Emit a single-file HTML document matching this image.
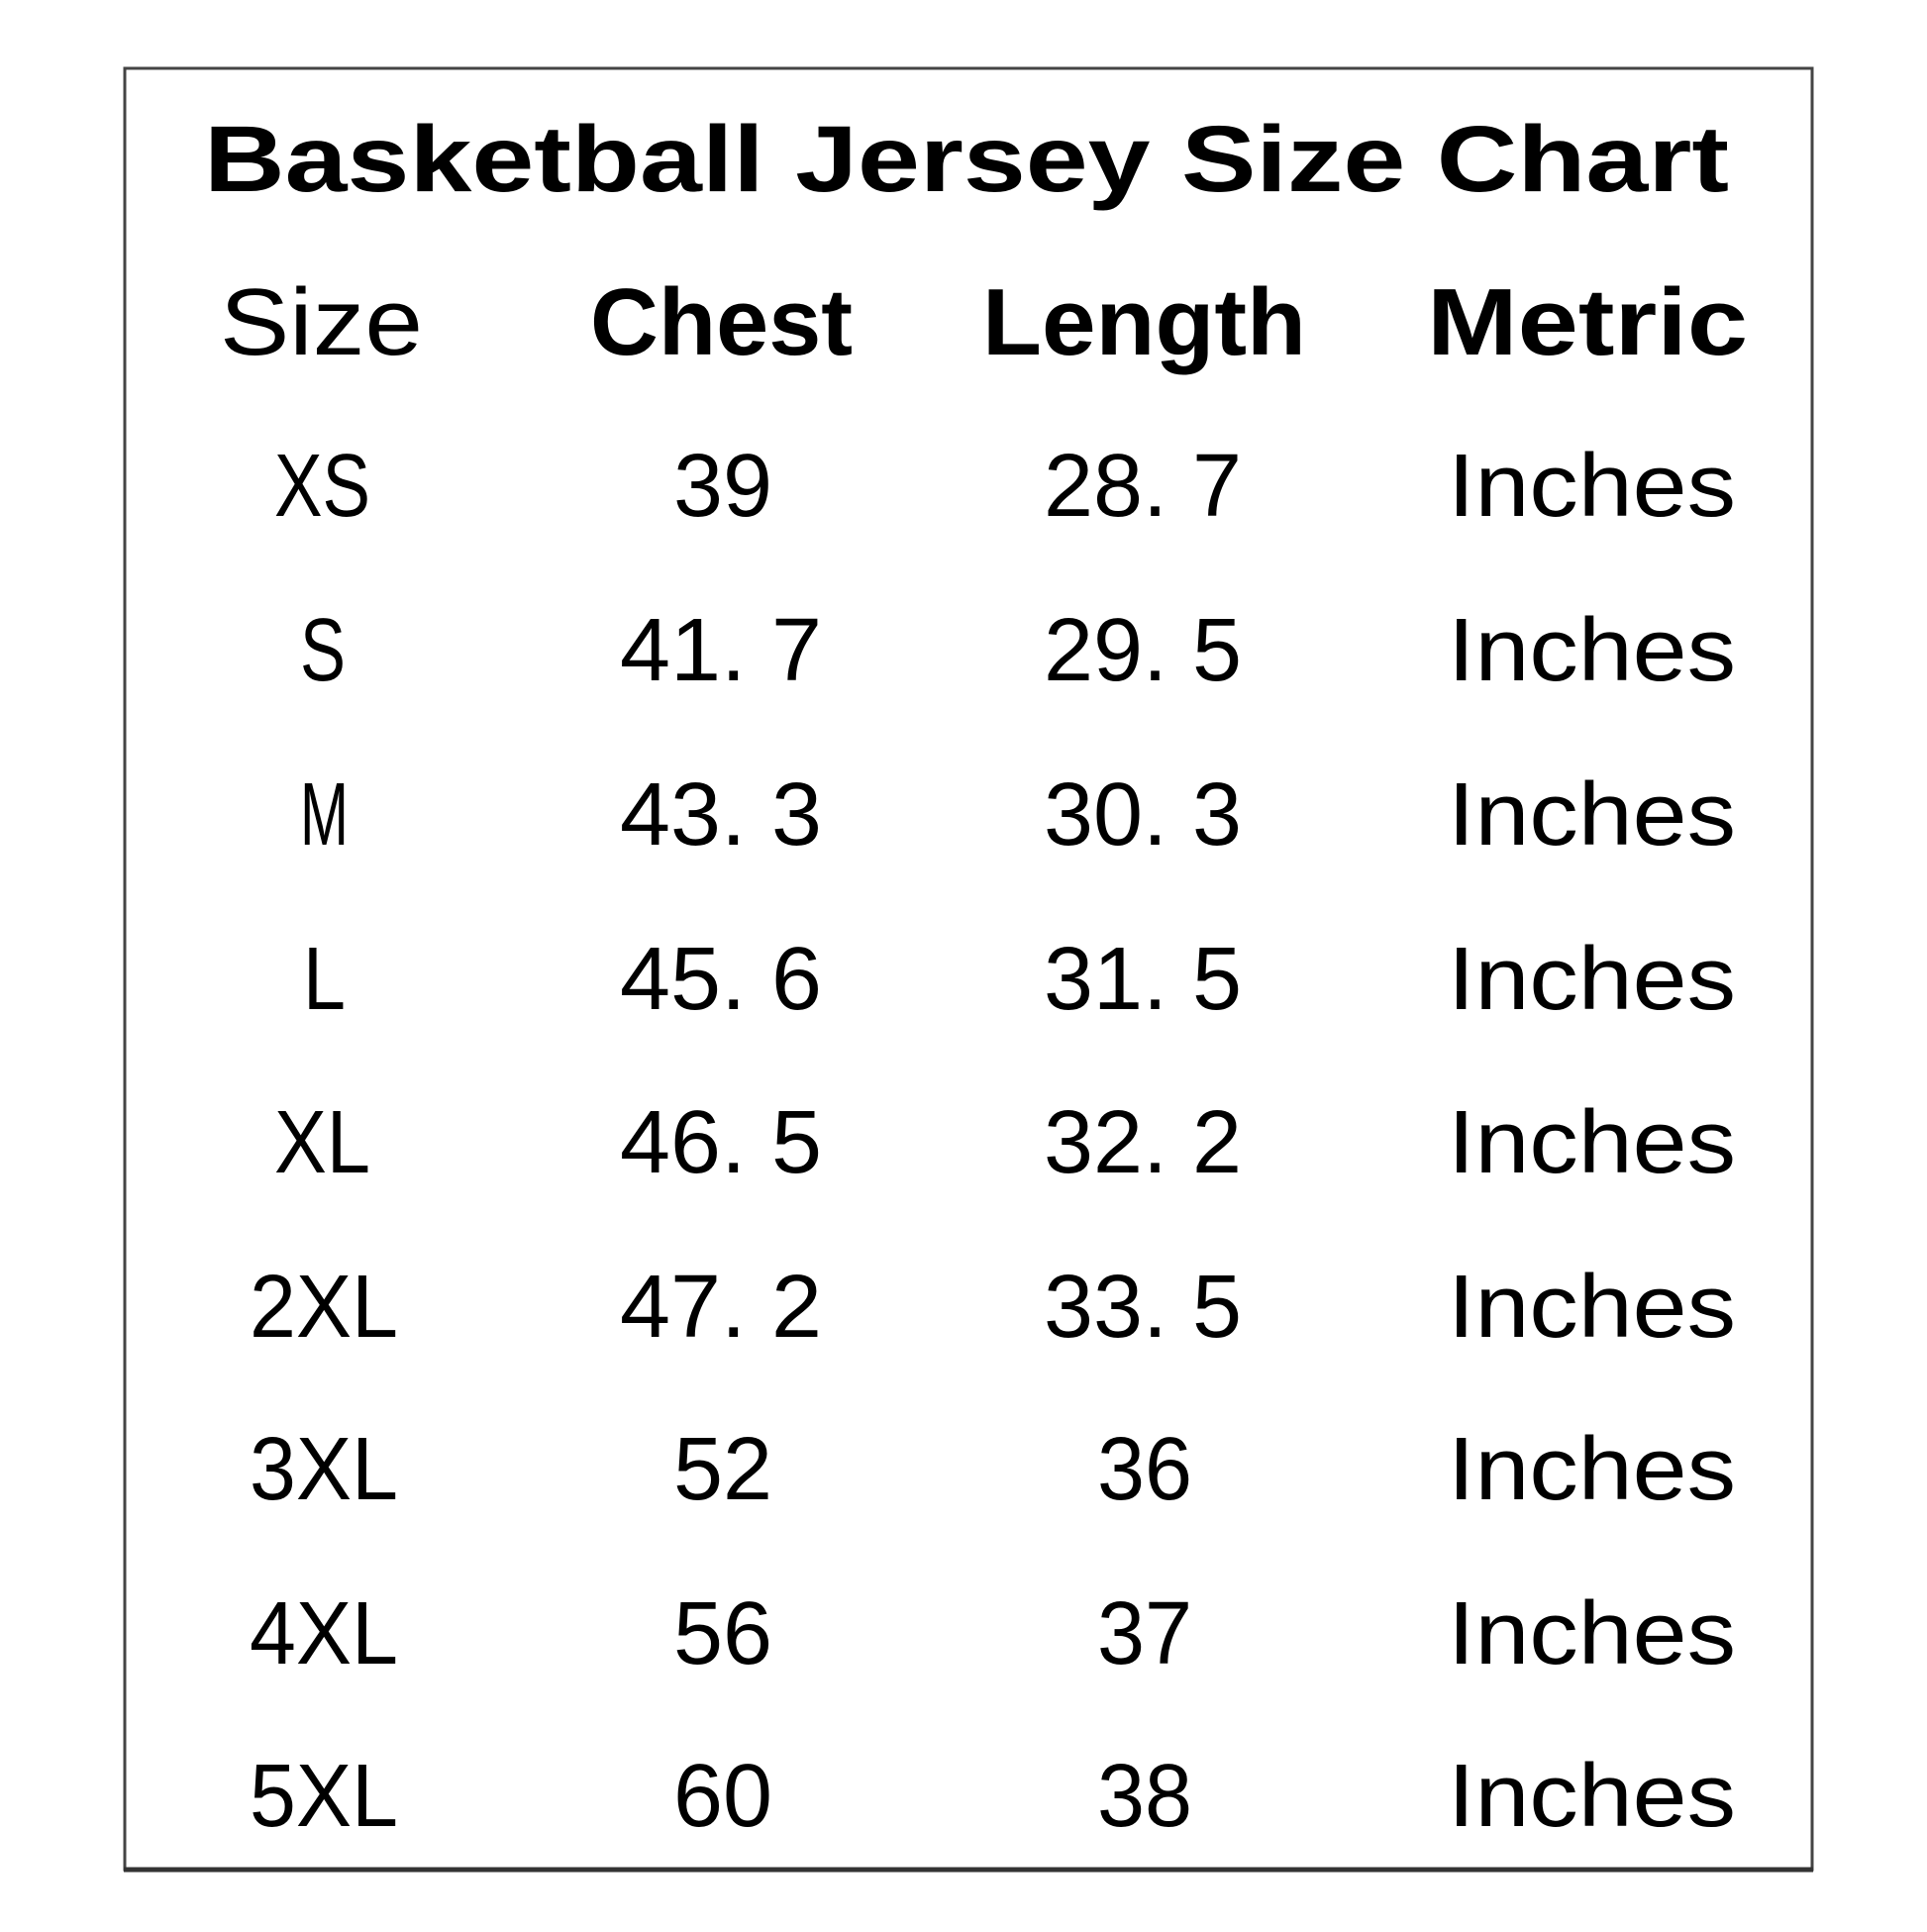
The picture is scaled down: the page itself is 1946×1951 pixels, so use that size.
<!DOCTYPE html>
<html><head><style>html,body{margin:0;padding:0;background:#fff}</style></head><body>
<svg width="1946" height="1946" viewBox="0 0 1946 1946" xmlns="http://www.w3.org/2000/svg">
<rect x="0" y="0" width="1946" height="1946" fill="#fff"/>
<rect x="126" y="69" width="1704" height="1819" fill="none" stroke="#444" stroke-width="3"/>
<line x1="125" y1="1888" x2="1831" y2="1888" stroke="#333" stroke-width="5"/>
<g font-family="Liberation Sans, sans-serif" fill="#000" lengthAdjust="spacingAndGlyphs">
<text x="206" y="193" font-size="95" font-weight="bold" textLength="1540" lengthAdjust="spacingAndGlyphs">Basketball Jersey Size Chart</text>
<g font-size="96" font-weight="bold">
<text x="222" y="358" textLength="205" lengthAdjust="spacingAndGlyphs" font-weight="normal">Size</text>
<text x="596" y="358" textLength="265" lengthAdjust="spacingAndGlyphs">Chest</text>
<text x="992" y="358" textLength="327" lengthAdjust="spacingAndGlyphs">Length</text>
<text x="1441" y="358" textLength="324" lengthAdjust="spacingAndGlyphs">Metric</text>
</g>
<g font-size="90">
<text x="277" y="521" textLength="97" lengthAdjust="spacingAndGlyphs">XS</text>
<text x="680" y="521" textLength="100" lengthAdjust="spacingAndGlyphs">39</text>
<text x="1054" y="521" textLength="200" lengthAdjust="spacingAndGlyphs">28. 7</text>
<text x="1462" y="521" textLength="291" lengthAdjust="spacingAndGlyphs">Inches</text>

<text x="303" y="687" textLength="46" lengthAdjust="spacingAndGlyphs">S</text>
<text x="626" y="687" textLength="204" lengthAdjust="spacingAndGlyphs">41. 7</text>
<text x="1054" y="687" textLength="200" lengthAdjust="spacingAndGlyphs">29. 5</text>
<text x="1462" y="687" textLength="291" lengthAdjust="spacingAndGlyphs">Inches</text>

<text x="303" y="853" textLength="49" lengthAdjust="spacingAndGlyphs">M</text>
<text x="626" y="853" textLength="204" lengthAdjust="spacingAndGlyphs">43. 3</text>
<text x="1054" y="853" textLength="200" lengthAdjust="spacingAndGlyphs">30. 3</text>
<text x="1462" y="853" textLength="291" lengthAdjust="spacingAndGlyphs">Inches</text>

<text x="306" y="1019" textLength="43" lengthAdjust="spacingAndGlyphs">L</text>
<text x="626" y="1019" textLength="204" lengthAdjust="spacingAndGlyphs">45. 6</text>
<text x="1054" y="1019" textLength="200" lengthAdjust="spacingAndGlyphs">31. 5</text>
<text x="1462" y="1019" textLength="291" lengthAdjust="spacingAndGlyphs">Inches</text>

<text x="277" y="1184" textLength="97" lengthAdjust="spacingAndGlyphs">XL</text>
<text x="626" y="1184" textLength="204" lengthAdjust="spacingAndGlyphs">46. 5</text>
<text x="1054" y="1184" textLength="200" lengthAdjust="spacingAndGlyphs">32. 2</text>
<text x="1462" y="1184" textLength="291" lengthAdjust="spacingAndGlyphs">Inches</text>

<text x="252" y="1350" textLength="150" lengthAdjust="spacingAndGlyphs">2XL</text>
<text x="626" y="1350" textLength="204" lengthAdjust="spacingAndGlyphs">47. 2</text>
<text x="1054" y="1350" textLength="200" lengthAdjust="spacingAndGlyphs">33. 5</text>
<text x="1462" y="1350" textLength="291" lengthAdjust="spacingAndGlyphs">Inches</text>

<text x="252" y="1514" textLength="150" lengthAdjust="spacingAndGlyphs">3XL</text>
<text x="680" y="1514" textLength="100" lengthAdjust="spacingAndGlyphs">52</text>
<text x="1108" y="1514" textLength="96" lengthAdjust="spacingAndGlyphs">36</text>
<text x="1462" y="1514" textLength="291" lengthAdjust="spacingAndGlyphs">Inches</text>

<text x="252" y="1680" textLength="150" lengthAdjust="spacingAndGlyphs">4XL</text>
<text x="680" y="1680" textLength="100" lengthAdjust="spacingAndGlyphs">56</text>
<text x="1108" y="1680" textLength="96" lengthAdjust="spacingAndGlyphs">37</text>
<text x="1462" y="1680" textLength="291" lengthAdjust="spacingAndGlyphs">Inches</text>

<text x="252" y="1844" textLength="150" lengthAdjust="spacingAndGlyphs">5XL</text>
<text x="680" y="1844" textLength="100" lengthAdjust="spacingAndGlyphs">60</text>
<text x="1108" y="1844" textLength="96" lengthAdjust="spacingAndGlyphs">38</text>
<text x="1462" y="1844" textLength="291" lengthAdjust="spacingAndGlyphs">Inches</text>
</g>
</g>
</svg>
</body></html>
